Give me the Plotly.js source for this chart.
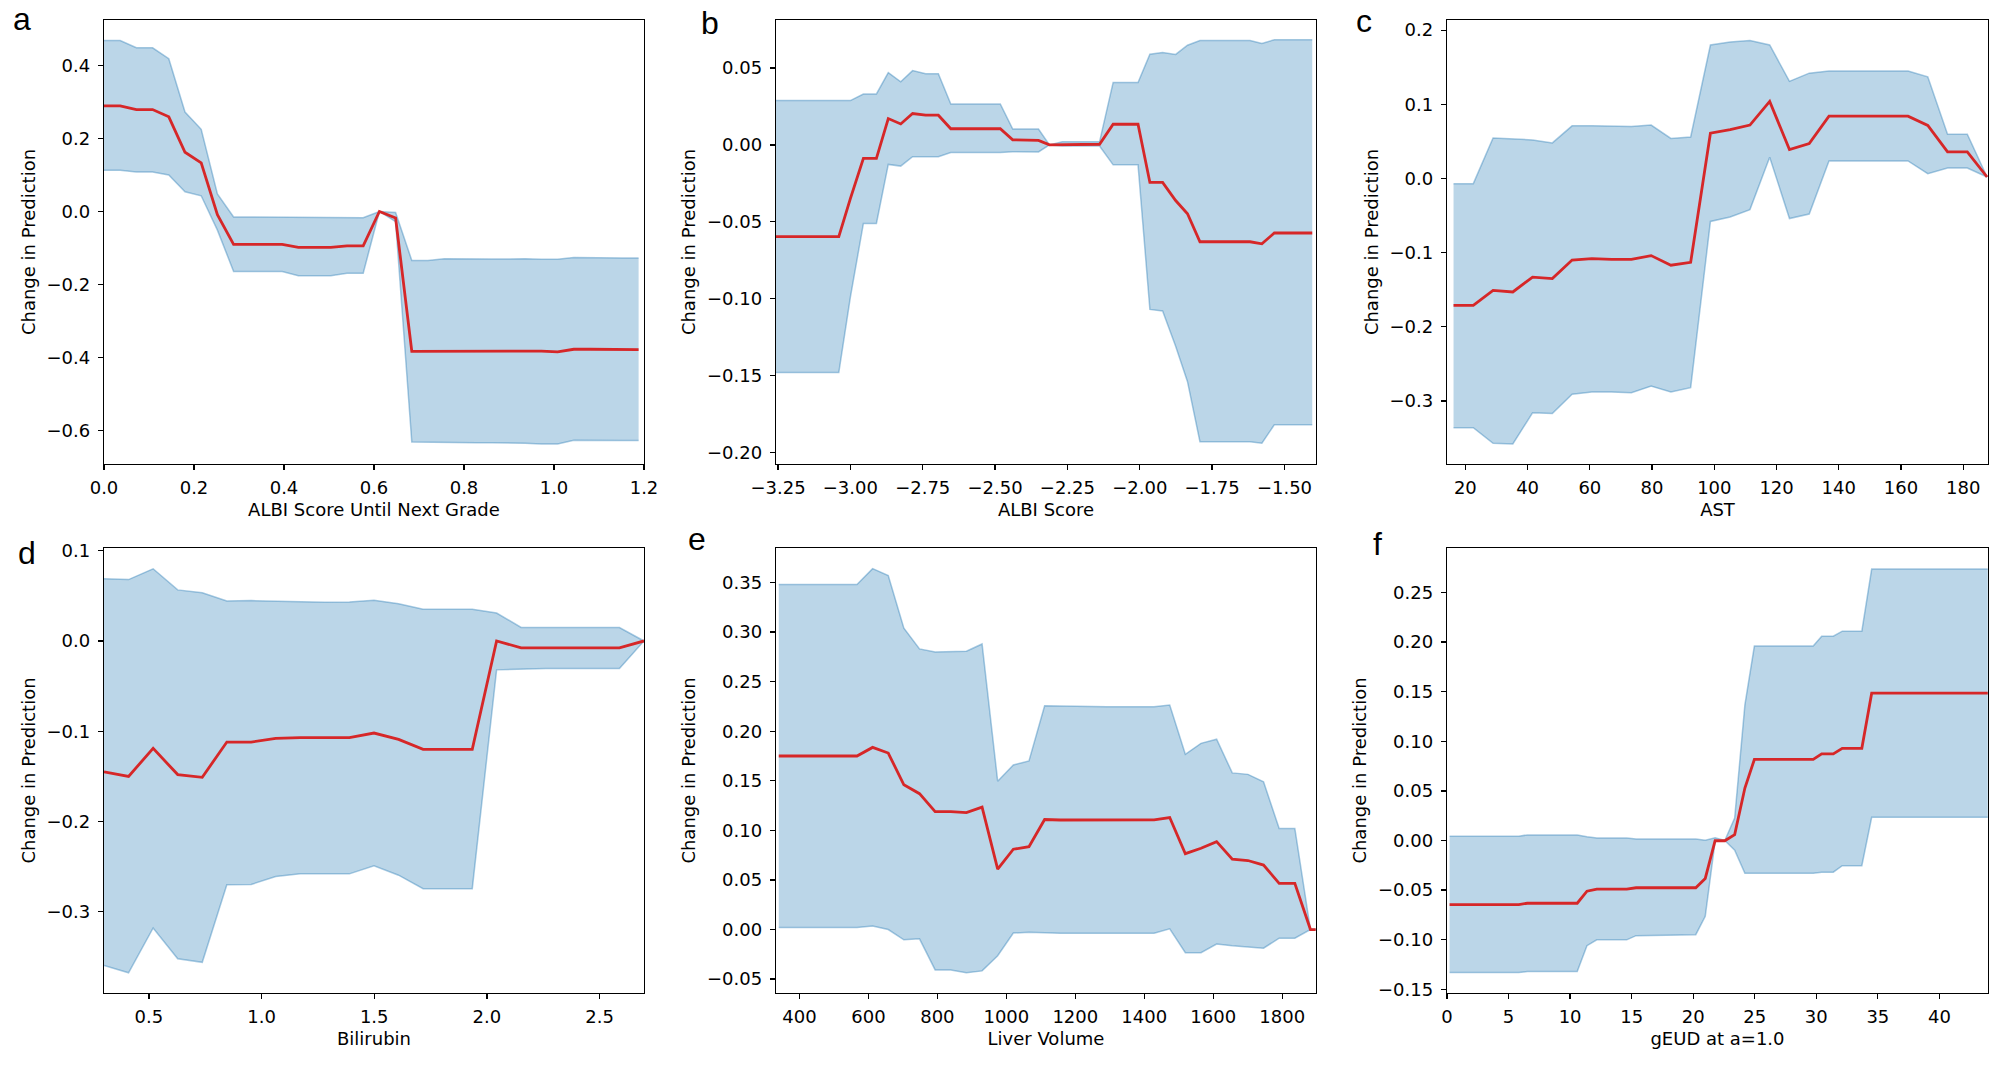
<!DOCTYPE html>
<html><head><meta charset="utf-8">
<script src="https://cdn.plot.ly/plotly-3.0.1.min.js"></script>
<style>html,body{margin:0;padding:0;background:#fff}#chart{width:2008px;height:1071px}</style>
</head><body><div id="chart"></div>
<script>
// ---------- Panel a: ALBI Score Until Next Grade ----------
const aX = [0.000,0.036,0.072,0.108,0.144,0.180,0.216,0.252,0.288,0.324,0.360,0.396,0.432,0.468,0.504,0.540,0.576,0.612,0.648,0.684,0.720,0.756,0.792,0.828,0.864,0.900,0.936,0.972,1.008,1.044,1.080,1.116,1.152,1.188];
const aMean = [0.289,0.289,0.279,0.279,0.259,0.162,0.133,-0.009,-0.090,-0.090,-0.090,-0.090,-0.098,-0.098,-0.098,-0.094,-0.094,0.000,-0.018,-0.383,-0.383,-0.381,-0.381,-0.381,-0.382,-0.382,-0.382,-0.382,-0.384,-0.377,-0.377,-0.378,-0.378,-0.378];
const aUpper = [0.468,0.468,0.448,0.448,0.418,0.272,0.225,0.048,-0.015,-0.015,-0.015,-0.016,-0.017,-0.017,-0.017,-0.017,-0.017,0.000,-0.003,-0.134,-0.134,-0.129,-0.130,-0.130,-0.130,-0.130,-0.129,-0.131,-0.131,-0.126,-0.127,-0.127,-0.127,-0.127];
const aLower = [0.113,0.113,0.108,0.108,0.100,0.054,0.043,-0.051,-0.164,-0.164,-0.164,-0.164,-0.176,-0.176,-0.176,-0.169,-0.169,0.000,-0.028,-0.631,-0.632,-0.633,-0.633,-0.633,-0.633,-0.633,-0.634,-0.636,-0.636,-0.626,-0.627,-0.627,-0.627,-0.627];
const aXTicks = [0.0,0.2,0.4,0.6,0.8,1.0,1.2];
const aXTickText = ["0.0","0.2","0.4","0.6","0.8","1.0","1.2"];
const aYTicks = [-0.6,-0.4,-0.2,0.0,0.2,0.4];
const aYTickText = ["\u22120.6","\u22120.4","\u22120.2","0.0","0.2","0.4"];

// ---------- Panel b: ALBI Score ----------
const bX = [-3.257,-3.040,-3.000,-2.955,-2.910,-2.869,-2.826,-2.785,-2.740,-2.696,-2.653,-2.482,-2.439,-2.395,-2.350,-2.312,-2.268,-2.139,-2.092,-2.006,-1.965,-1.921,-1.876,-1.835,-1.792,-1.619,-1.578,-1.535,-1.404];
const bMean = [-0.0597,-0.0597,-0.035,-0.0088,-0.0088,0.0171,0.0136,0.0204,0.0193,0.0193,0.0105,0.0105,0.0033,0.0029,0.0029,0.0,0.0002,0.0004,0.0134,0.0134,-0.0244,-0.0244,-0.0362,-0.0448,-0.063,-0.063,-0.0643,-0.0573,-0.0573];
const bUpper = [0.0288,0.0288,0.0288,0.0331,0.0331,0.047,0.041,0.0483,0.0463,0.0463,0.0266,0.0266,0.0103,0.0103,0.0103,0.0,0.002,0.002,0.0406,0.0406,0.059,0.060,0.0588,0.0648,0.0678,0.0678,0.066,0.0683,0.0683];
const bLower = [-0.148,-0.148,-0.099,-0.0511,-0.0511,-0.0127,-0.0138,-0.0077,-0.0077,-0.0077,-0.005,-0.005,-0.0044,-0.0046,-0.0046,0.0,-0.0007,-0.0007,-0.013,-0.013,-0.107,-0.108,-0.131,-0.154,-0.193,-0.193,-0.194,-0.182,-0.182];
const bXTicks = [-3.25,-3.0,-2.75,-2.5,-2.25,-2.0,-1.75,-1.5];
const bXTickText = ["\u22123.25","\u22123.00","\u22122.75","\u22122.50","\u22122.25","\u22122.00","\u22121.75","\u22121.50"];
const bYTicks = [-0.20,-0.15,-0.10,-0.05,0.0,0.05];
const bYTickText = ["\u22120.20","\u22120.15","\u22120.10","\u22120.05","0.00","0.05"];

// ---------- Panel c: AST ----------
const cX = [16.2,22.55,28.9,35.25,41.6,47.95,54.3,60.65,67.0,73.35,79.7,86.05,92.4,98.75,105.1,111.45,117.8,124.15,130.5,136.85,143.2,149.55,155.9,162.25,168.6,174.95,181.3,187.65];
const cMean = [-0.171,-0.171,-0.151,-0.153,-0.133,-0.135,-0.110,-0.108,-0.109,-0.109,-0.104,-0.117,-0.113,0.061,0.066,0.072,0.104,0.039,0.047,0.084,0.084,0.084,0.084,0.084,0.0715,0.036,0.036,0.002];
const cUpper = [-0.007,-0.007,0.0546,0.053,0.052,0.048,0.071,0.071,0.070,0.070,0.072,0.054,0.056,0.180,0.184,0.186,0.180,0.131,0.142,0.145,0.145,0.145,0.145,0.145,0.137,0.0597,0.0597,0.002];
const cLower = [-0.336,-0.336,-0.357,-0.358,-0.316,-0.317,-0.291,-0.288,-0.288,-0.289,-0.280,-0.288,-0.282,-0.058,-0.052,-0.042,0.0287,-0.054,-0.048,0.0237,0.0237,0.0237,0.0237,0.0237,0.0064,0.014,0.014,0.002];
const cXTicks = [20,40,60,80,100,120,140,160,180];
const cXTickText = ["20","40","60","80","100","120","140","160","180"];
const cYTicks = [-0.3,-0.2,-0.1,0.0,0.1,0.2];
const cYTickText = ["\u22120.3","\u22120.2","\u22120.1","0.0","0.1","0.2"];

// ---------- Panel d: Bilirubin ----------
const dX = [0.301,0.410,0.519,0.628,0.737,0.846,0.954,1.063,1.172,1.281,1.390,1.499,1.608,1.717,1.826,1.935,2.043,2.152,2.261,2.370,2.479,2.588,2.697];
const dMean = [-0.145,-0.150,-0.119,-0.148,-0.151,-0.112,-0.112,-0.108,-0.107,-0.107,-0.107,-0.102,-0.109,-0.120,-0.120,-0.120,0.000,-0.0076,-0.0076,-0.0076,-0.0076,-0.0076,0.000];
const dUpper = [0.069,0.068,0.080,0.0566,0.0535,0.0443,0.0447,0.044,0.0432,0.0428,0.0432,0.0451,0.0413,0.0352,0.0352,0.0352,0.031,0.0149,0.0149,0.0149,0.0149,0.0149,0.000];
const dLower = [-0.3596,-0.3676,-0.318,-0.352,-0.356,-0.270,-0.2698,-0.261,-0.258,-0.258,-0.258,-0.249,-0.2595,-0.2744,-0.2744,-0.2744,-0.032,-0.031,-0.0306,-0.0306,-0.0306,-0.0306,0.000];
const dXTicks = [0.5,1.0,1.5,2.0,2.5];
const dXTickText = ["0.5","1.0","1.5","2.0","2.5"];
const dYTicks = [-0.3,-0.2,-0.1,0.0,0.1];
const dYTickText = ["\u22120.3","\u22120.2","\u22120.1","0.0","0.1"];

// ---------- Panel e: Liver Volume ----------
const eX = [340.0,385.4,430.7,476.1,521.4,566.8,612.1,657.5,702.8,748.2,793.5,838.9,884.2,929.6,974.9,1020.3,1065.6,1111.0,1156.3,1201.7,1247.0,1292.4,1337.7,1383.1,1428.4,1473.8,1519.1,1564.5,1609.8,1655.2,1700.5,1745.9,1791.2,1836.6,1881.9,1897.0];
const eMean = [0.175,0.175,0.175,0.175,0.175,0.175,0.1837,0.178,0.146,0.137,0.119,0.119,0.118,0.1235,0.061,0.081,0.0835,0.111,0.1105,0.1105,0.1105,0.1105,0.1105,0.1105,0.1106,0.113,0.0765,0.082,0.0887,0.071,0.0696,0.065,0.0466,0.0466,0.0,0.0];
const eUpper = [0.348,0.348,0.348,0.348,0.348,0.348,0.364,0.357,0.304,0.283,0.280,0.280,0.2807,0.288,0.1496,0.166,0.170,0.2257,0.2254,0.2247,0.2247,0.2247,0.2247,0.2247,0.2247,0.2264,0.1767,0.1878,0.192,0.158,0.1565,0.149,0.102,0.102,0.0,0.0];
const eLower = [0.0021,0.0021,0.0021,0.0021,0.0021,0.0021,0.0035,0.0,-0.0104,-0.0094,-0.0407,-0.0407,-0.0435,-0.0417,-0.0264,-0.0035,-0.0028,-0.0035,-0.0038,-0.0038,-0.0038,-0.0038,-0.0038,-0.0038,-0.0038,0.0007,-0.0233,-0.0233,-0.0146,-0.0163,-0.0177,-0.0188,-0.0087,-0.0087,0.0,0.0];
const eXTicks = [400,600,800,1000,1200,1400,1600,1800];
const eXTickText = ["400","600","800","1000","1200","1400","1600","1800"];
const eYTicks = [-0.05,0.0,0.05,0.10,0.15,0.20,0.25,0.30,0.35];
const eYTickText = ["\u22120.05","0.00","0.05","0.10","0.15","0.20","0.25","0.30","0.35"];

// ---------- Panel f: gEUD at a=1.0 ----------
const fX = [0.21,5.83,6.52,10.58,11.37,12.17,14.60,15.36,20.21,20.98,21.78,22.57,23.37,24.20,24.97,29.75,30.44,31.38,32.11,33.70,34.50,43.93];
const fMean = [-0.0647,-0.0647,-0.0633,-0.0633,-0.0511,-0.049,-0.049,-0.0477,-0.0477,-0.0383,-0.0003,-0.0003,0.0059,0.0529,0.0817,0.0817,0.0873,0.0873,0.0929,0.0929,0.1485,0.1485];
const fUpper = [0.0042,0.0042,0.0056,0.0056,0.0038,0.0024,0.0024,0.0014,0.0014,0.0003,0.0028,0.0,0.0226,0.1367,0.196,0.196,0.206,0.206,0.211,0.211,0.2737,0.2737];
const fLower = [-0.1332,-0.1332,-0.1322,-0.1322,-0.1061,-0.1002,-0.1002,-0.096,-0.095,-0.0765,-0.001,0.0,-0.0097,-0.033,-0.033,-0.033,-0.032,-0.032,-0.0254,-0.0254,0.0233,0.0233];
const fXTicks = [0,5,10,15,20,25,30,35,40];
const fXTickText = ["0","5","10","15","20","25","30","35","40"];
const fYTicks = [-0.15,-0.10,-0.05,0.0,0.05,0.10,0.15,0.20,0.25];
const fYTickText = ["\u22120.15","\u22120.10","\u22120.05","0.00","0.05","0.10","0.15","0.20","0.25"];

const panelLabels = ["a","b","c","d","e","f"];
const xTitles = ["ALBI Score Until Next Grade","ALBI Score","AST","Bilirubin","Liver Volume","gEUD at a=1.0"];
const yTitle = "Change in Prediction";

// ---------- layout geometry (pixels) ----------
const W = 2008, H = 1071;
const panels = [
  {x:aX, m:aMean, u:aUpper, l:aLower, xr:[0,1.2], yr:[-0.691,0.524], xt:aXTicks, xtt:aXTickText, yt:aYTicks, ytt:aYTickText, box:[104,644,20,464], lab:[22,39]},
  {x:bX, m:bMean, u:bUpper, l:bLower, xr:[-3.257,-1.391], yr:[-0.2075,0.0812], xt:bXTicks, xtt:bXTickText, yt:bYTicks, ytt:bYTickText, box:[776,1316,20,464], lab:[710,43]},
  {x:cX, m:cMean, u:cUpper, l:cLower, xr:[14.1,187.95], yr:[-0.385,0.2137], xt:cXTicks, xtt:cXTickText, yt:cYTicks, ytt:cYTickText, box:[1447,1988,20,464], lab:[1364,41]},
  {x:dX, m:dMean, u:dUpper, l:dLower, xr:[0.301,2.697], yr:[-0.39,0.103], xt:dXTicks, xtt:dXTickText, yt:dYTicks, ytt:dYTickText, box:[104,644,548,993], lab:[27,573]},
  {x:eX, m:eMean, u:eUpper, l:eLower, xr:[332,1898], yr:[-0.064,0.3848], xt:eXTicks, xtt:eXTickText, yt:eYTicks, ytt:eYTickText, box:[776,1316,548,993], lab:[697,559]},
  {x:fX, m:fMean, u:fUpper, l:fLower, xr:[0,43.95], yr:[-0.1538,0.2949], xt:fXTicks, xtt:fXTickText, yt:fYTicks, ytt:fYTickText, box:[1447,1988,548,993], lab:[1377,564]}
];

const bandLine = 'rgba(31,119,180,0.38)';
const bandFill = 'rgba(31,119,180,0.3)';
const redLine = '#d62728';
const FONT = 'DejaVu Sans, sans-serif';

const traces = [];
const layout = {
  width: W, height: H,
  margin: {l:0, r:0, t:0, b:0, pad:0},
  paper_bgcolor: '#fff', plot_bgcolor: '#fff',
  showlegend: false,
  font: {family: FONT, size: 18, color: '#000'},
  annotations: []
};

panels.forEach((p, i) => {
  const n = i + 1;
  const xa = n === 1 ? 'x' : 'x' + n;
  const ya = n === 1 ? 'y' : 'y' + n;
  traces.push({x:p.x, y:p.u, xaxis:xa, yaxis:ya, type:'scatter', mode:'lines', line:{color:bandLine, width:1.5}, hoverinfo:'skip'});
  traces.push({x:p.x, y:p.l, xaxis:xa, yaxis:ya, type:'scatter', mode:'lines', fill:'tonexty', fillcolor:bandFill, line:{color:bandLine, width:1.5}, hoverinfo:'skip'});
  traces.push({x:p.x, y:p.m, xaxis:xa, yaxis:ya, type:'scatter', mode:'lines', line:{color:redLine, width:2.8}});
  const [l, r, t, b] = p.box;
  const common = {showline:true, mirror:true, linecolor:'#000', linewidth:1.3, ticks:'outside', ticklen:5, tickwidth:1.3, tickcolor:'#000', showgrid:false, zeroline:false, tickfont:{family:FONT, size:18, color:'#000'}, tickmode:'array', fixedrange:true};
  layout['xaxis' + (n === 1 ? '' : n)] = Object.assign({}, common, {
    domain:[l / W, r / W], anchor: ya, range: p.xr, tickvals: p.xt, ticktext: p.xtt, ticklabelstandoff: 2,
    title:{text: xTitles[i], font:{family:FONT, size:18, color:'#000'}, standoff: 6}
  });
  layout['yaxis' + (n === 1 ? '' : n)] = Object.assign({}, common, {
    domain:[1 - b / H, 1 - t / H], anchor: xa, range: p.yr, tickvals: p.yt, ticktext: p.ytt, ticklabelstandoff: 4,
    title:{text: yTitle, font:{family:FONT, size:18, color:'#000'}, standoff: 6}
  });
  layout.annotations.push({text: panelLabels[i], xref:'paper', yref:'paper', x: p.lab[0] / W, y: 1 - p.lab[1] / H, xanchor:'center', yanchor:'bottom', showarrow:false, font:{family:'Liberation Sans, Arial, sans-serif', size:32, color:'#000'}});
});

Plotly.newPlot('chart', traces, layout, {displayModeBar:false, staticPlot:true});
</script></body></html>
